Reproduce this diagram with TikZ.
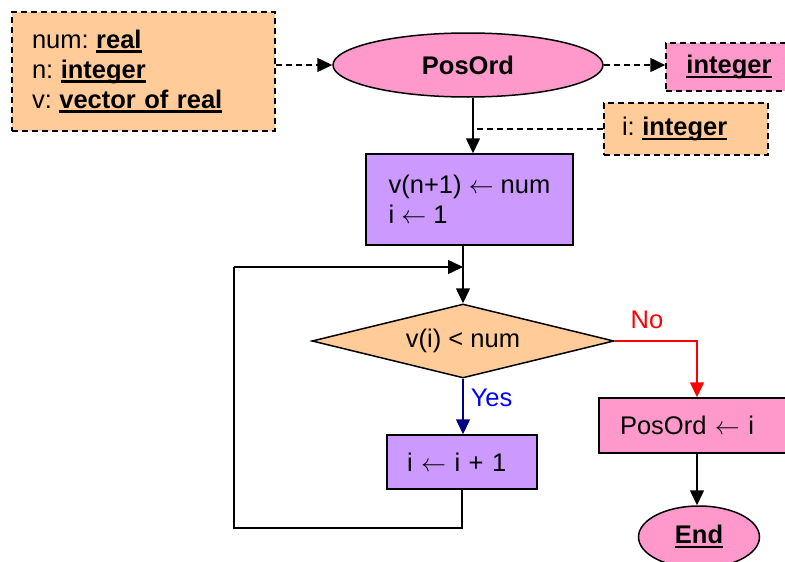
\documentclass[tikz,border=0pt]{standalone}
\usepackage{fontspec}
\setmainfont{Liberation Sans}
\usetikzlibrary{arrows.meta,shapes.geometric,calc}
\definecolor{orangef}{HTML}{FFCC99}
\definecolor{pinkf}{HTML}{FF99CC}
\definecolor{purplef}{HTML}{CC99FF}
\definecolor{navyl}{HTML}{000080}
\newcommand\ulb[1]{\setbox0=\hbox{\bfseries #1}\rlap{\rule[-4.5pt]{\wd0}{2.5pt}}\box0}
\newcommand\gap{\hspace{7.5pt}}
\begin{document}
\begin{tikzpicture}[x=1pt,y=-1pt,
  font=\fontsize{25.5}{30}\selectfont,
  line width=1.5pt,
  tip/.style={-{Triangle[length=15pt,width=14pt]}},
  dsh/.style={dash pattern=on 6pt off 4pt},
  decl/.style={draw,dsh,rectangle,fill=orangef,align=left,inner ysep=0pt},
  procbox/.style={draw,rectangle,fill=purplef,align=left,inner ysep=0pt},
  termin/.style={draw,ellipse,fill=pinkf,inner sep=0pt}]
\useasboundingbox (0,0) rectangle (785,562);
\clip (0,0) rectangle (785,562);
\node[decl,text width=223pt,inner xsep=20pt,minimum height=119pt] (in) at (143.5,71.5)
  {num:\gap\ulb{real}\\n:\gap\ulb{integer}\\v:\gap\ulb{vector of real}};
\node[termin,minimum width=270pt,minimum height=64pt] (pos) at (468,65) {\bfseries PosOrd};
\node[decl,fill=pinkf,minimum width=126pt,minimum height=48pt] (oint) at (729,67) {\ulb{integer}};
\node[decl,text width=128pt,inner xsep=18pt,minimum height=52pt] (iint) at (686,129) {i:\gap\ulb{integer}};
\node[procbox,minimum width=207pt,minimum height=91pt] (init) at (469.5,199.5)
  {v(n+1) $\leftarrow$ num\\i $\leftarrow$ 1};
\node[draw,diamond,fill=orangef,aspect=4.07,minimum width=302pt,minimum height=74pt,inner sep=0pt] (dec) at (463,341) {v(i) < num};
\node[procbox,text width=110pt,inner xsep=20pt,minimum height=54pt] (inc) at (462,462) {i $\leftarrow$ i + 1};
\node[draw,rectangle,fill=pinkf,align=left,text width=154pt,inner xsep=21pt,minimum height=55pt] (out) at (697,425.5) {PosOrd $\leftarrow$ i};
\node[termin,minimum width=121pt,minimum height=62pt] (end) at (699,537) {\ulb{End}};
\node[text=red,anchor=center] (no) at (647,320) {No};
\node[text=blue,anchor=west,inner sep=0pt] (yes) at (470,398) {Yes};
\coordinate (lp) at (234,528);
\coordinate (jy) at (0,267);
\coordinate (j) at (dec.north |- jy);
\draw[tip,dsh] (pos.west -| in.east) -- (pos.west);
\draw[tip,dsh] (pos.east) -- (pos.east -| oint.west);
\draw[tip] (pos.south -| 473,0) -- (init.north -| 473,0);
\draw[dsh] (iint.west) -- (iint.west -| 473,0);
\draw[tip] (dec.north |- init.south) -- (dec.north);
\draw[tip,navyl] (dec.south) -- (dec.south |- inc.north);
\draw (inc.south) -- (inc.south |- lp) -- (lp) -- (lp |- j);
\draw[tip] (lp |- j) -- (j);
\draw[tip,red] (dec.east) -- (out.north |- dec.east) -- (out.north);
\draw[tip] (out.south) -- (out.south |- end.north);
\end{tikzpicture}
\end{document}
